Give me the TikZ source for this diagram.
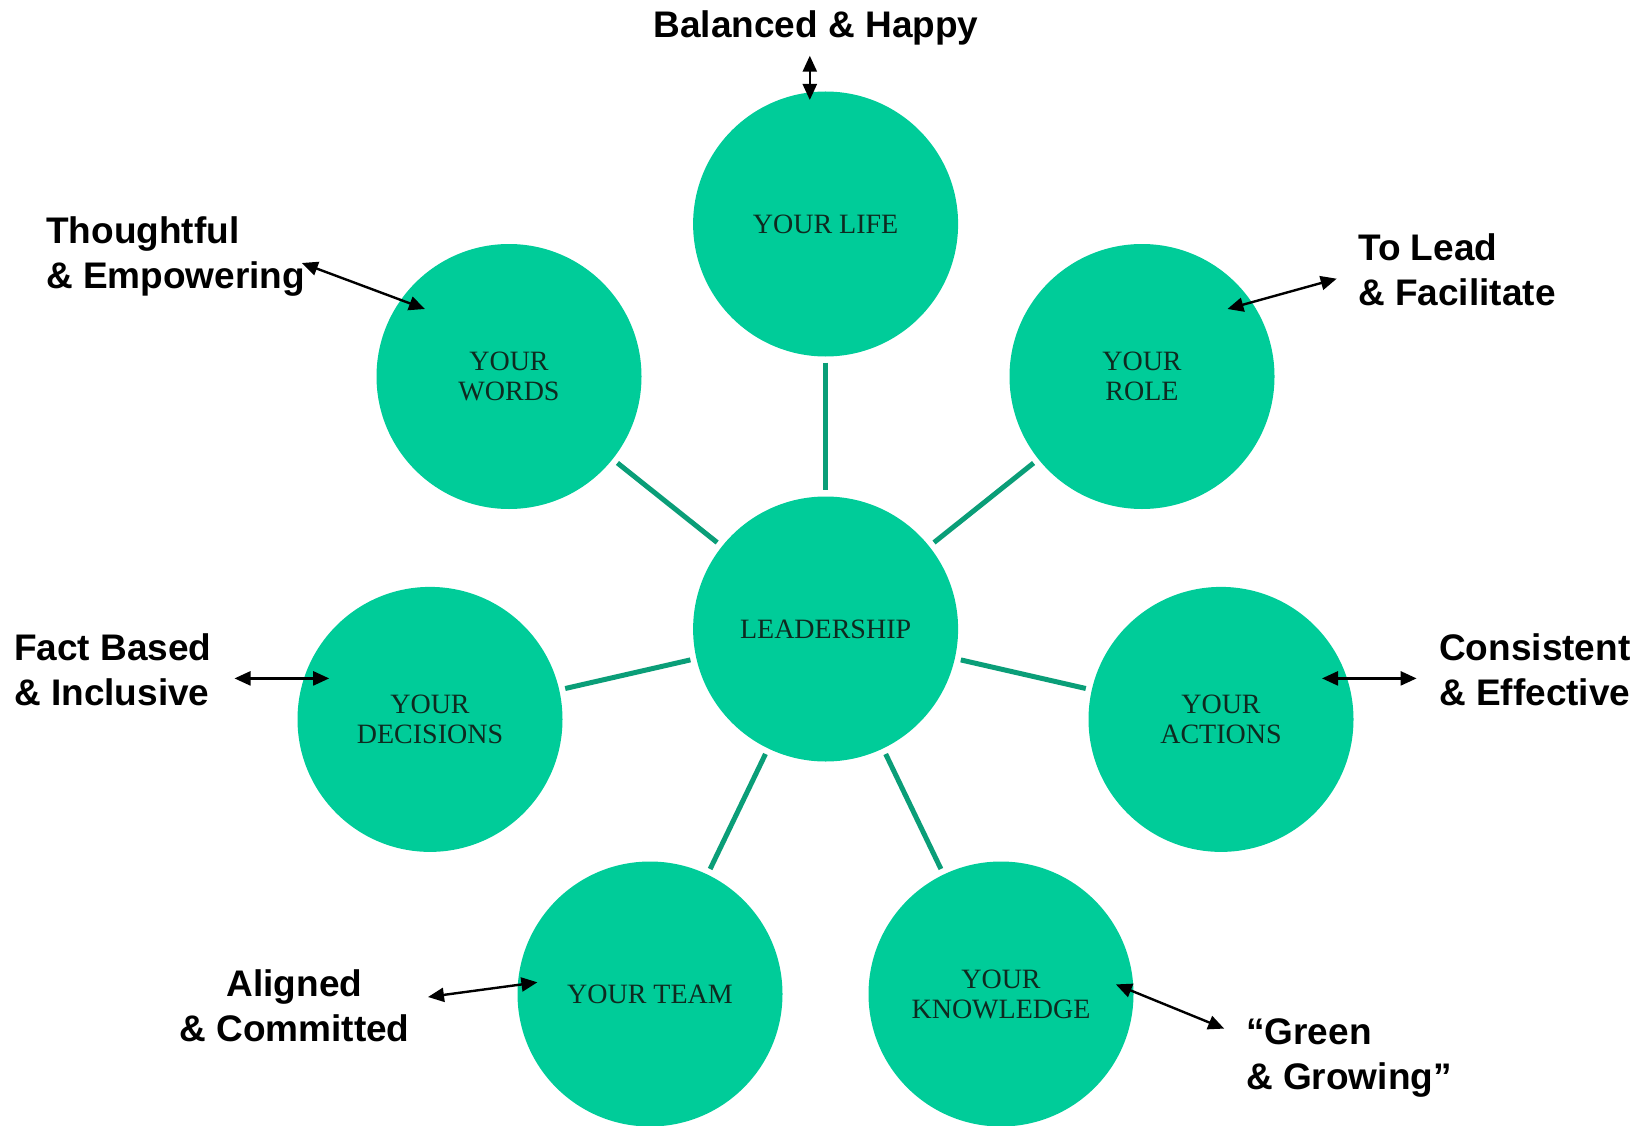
\documentclass[tikz,border=0pt]{standalone}
\usepackage{fontspec}
\setmainfont{Liberation Serif}
\newfontfamily\labelfont{Liberation Sans}
\usetikzlibrary{arrows.meta}
\definecolor{circfill}{HTML}{00CC99}
\definecolor{connline}{HTML}{0A9E78}
\definecolor{circtext}{HTML}{0E2A20}
\tikzset{
  bubble/.style={circle, fill=circfill, draw=none, minimum size=265pt, inner sep=0pt,
    text=circtext, align=center, font=\fontsize{28}{30}\selectfont},
  conn/.style={draw=connline, line width=5pt, shorten <=6pt, shorten >=6pt},
  twoarrow/.style={line width=2.4pt, {Triangle[length=16pt,width=14pt]}-{Triangle[length=16pt,width=14pt]}},
  lbl/.style={font=\labelfont\bfseries\fontsize{37}{45}\selectfont, inner sep=0pt}
}
\begin{document}
\begin{tikzpicture}[x=1pt,y=-1pt]
\useasboundingbox (0,0) rectangle (1649,1126);
% circles
\node[bubble] (life) at (825.6,224) {YOUR LIFE};
\node[bubble] (lead) at (825.6,629) {LEADERSHIP};
\node[bubble] (words) at (509,376.5) {YOUR\\WORDS};
\node[bubble] (role) at (1142,376.5) {YOUR\\ROLE};
\node[bubble] (dec) at (430,719.4) {YOUR\\DECISIONS};
\node[bubble] (act) at (1221,719.4) {YOUR\\ACTIONS};
\node[bubble] (team) at (650,994) {YOUR TEAM};
\node[bubble] (know) at (1001,994) {YOUR\\KNOWLEDGE};
% connectors
\foreach \n in {life,words,role,dec,act,team,know}
  \draw[conn] (\n) -- (lead);
% labels
\node[lbl, anchor=base] (lbal) at (816,37.5) {Balanced \& Happy};
\node[lbl, anchor=west, align=left] (lthou) at (46,257) {Thoughtful\\\& Empowering};
\node[lbl, anchor=west, align=left] (llead) at (1358,270) {To Lead\\\& Facilitate};
\node[lbl, anchor=west, align=left] (lfact) at (14,670) {Fact Based\\\& Inclusive};
\node[lbl, anchor=west, align=left] (lcons) at (1439,670) {Consistent\\\& Effective};
\node[lbl, align=center] (lalig) at (294.5,1006) {Aligned\\\& Committed};
\node[lbl, anchor=west, align=left] (lgreen) at (1246,1058) {“Green\\\& Growing”};
% arrow end points
\coordinate (a1) at (809.8,55.7); \coordinate (b1) at (809.8,100);
\coordinate (a2) at (301.8,263);  \coordinate (b2) at (425,309);
\coordinate (a3) at (1227.4,309); \coordinate (b3) at (1336.7,278.7);
\coordinate (a4) at (234.5,678.4); \coordinate (b4) at (329.2,678.4);
\coordinate (a5) at (1322,678.4); \coordinate (b5) at (1416.6,678.4);
\coordinate (a6) at (428,997);    \coordinate (b6) at (537.4,982.3);
\coordinate (a7) at (1115.9,984.4); \coordinate (b7) at (1224.2,1028.6);
\foreach \i in {1,...,7}
  \draw[twoarrow] (a\i) -- (b\i);
\end{tikzpicture}
\end{document}
